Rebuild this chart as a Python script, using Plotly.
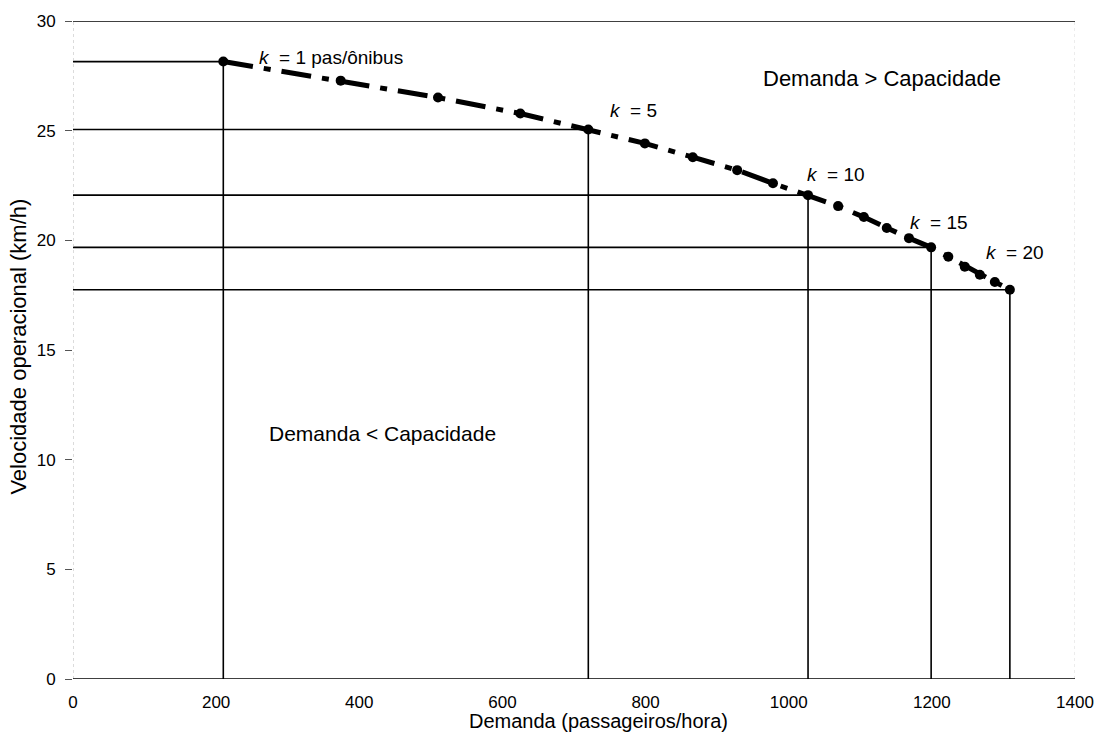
import plotly.graph_objects as go

# Operating speed vs. demand for bus occupancy k = 1..20 passengers/bus
k_values = list(range(1, 21))
demanda = [210, 374, 510, 625, 720, 799, 866, 928, 978, 1027,
           1069, 1105, 1137, 1168, 1199, 1223, 1246, 1267, 1288, 1309]
velocidade = [28.15, 27.28, 26.51, 25.78, 25.05, 24.42, 23.79, 23.2, 22.6, 22.06,
              21.56, 21.06, 20.56, 20.1, 19.68, 19.25, 18.8, 18.43, 18.1, 17.75]

# Highlighted occupancies with drop lines to both axes
k_destaque = [1, 5, 10, 15, 20]
rotulos = ["<i>k</i>  = 1 pas/ônibus", "<i>k</i>  = 5", "<i>k</i>  = 10",
           "<i>k</i>  = 15", "<i>k</i>  = 20"]
deslocamentos = [(34, 4), (20, 19), (-3, 21), (-23, 25), (-26, 37)]

x_ticks = [0, 200, 400, 600, 800, 1000, 1200, 1400]
y_ticks = [0, 5, 10, 15, 20, 25, 30]

FONT = "Liberation Sans, Arial, sans-serif"

fig = go.Figure()

for kk in k_destaque:
    i = k_values.index(kk)
    fig.add_trace(go.Scatter(
        x=[0, demanda[i], demanda[i]], y=[velocidade[i], velocidade[i], 0],
        mode="lines", line=dict(color="black", width=1.6),
        hoverinfo="skip", showlegend=False))

fig.add_trace(go.Scatter(
    x=demanda, y=velocidade, mode="lines+markers",
    line=dict(color="black", width=5, dash="30px,11px,7px,11px"),
    marker=dict(color="black", size=10),
    showlegend=False))

annotations = []
for kk, txt, (dx, dy) in zip(k_destaque, rotulos, deslocamentos):
    i = k_values.index(kk)
    annotations.append(dict(
        x=demanda[i], y=velocidade[i], xref="x", yref="y", text=txt,
        showarrow=False, xanchor="left", yanchor="middle",
        xshift=dx, yshift=dy, font=dict(family=FONT, size=19, color="black")))

annotations += [
    dict(x=1130, y=27.4, xref="x", yref="y", text="Demanda > Capacidade",
         showarrow=False, xanchor="center", yanchor="middle",
         font=dict(family=FONT, size=22, color="black")),
    dict(x=432, y=11.2, xref="x", yref="y", text="Demanda < Capacidade",
         showarrow=False, xanchor="center", yanchor="middle",
         font=dict(family=FONT, size=21, color="black")),
    dict(x=0.524, y=-0.0835, xref="paper", yref="paper", text="Demanda (passageiros/hora)",
         showarrow=False, xanchor="center", yanchor="bottom",
         font=dict(family=FONT, size=20, color="black")),
    dict(x=-0.054, y=0.505, xref="paper", yref="paper", text="Velocidade operacional (km/h)",
         showarrow=False, xanchor="center", yanchor="middle", textangle=-90,
         font=dict(family=FONT, size=22, color="black")),
]

shapes = [
    dict(type="line", xref="x", yref="y", x0=0, x1=0, y0=0, y1=30,
         line=dict(color="#b8b8b8", width=1, dash="dot")),
    dict(type="line", xref="x", yref="y", x0=1400, x1=1400, y0=0, y1=30,
         line=dict(color="#d8d8d8", width=1, dash="dot")),
    dict(type="line", xref="x", yref="y", x0=0, x1=1400, y0=30, y1=30,
         line=dict(color="black", width=1.6)),
    dict(type="line", xref="x", yref="y", x0=0, x1=1400, y0=0, y1=0,
         line=dict(color="black", width=1.6)),
]

fig.update_layout(
    width=1109, height=735,
    margin=dict(l=73, r=34, t=18, b=56),
    paper_bgcolor="white", plot_bgcolor="white",
    font=dict(family=FONT, size=17, color="black"),
    annotations=annotations, shapes=shapes,
    xaxis=dict(range=[0, 1400], tickvals=x_ticks, showgrid=False, zeroline=False,
               showline=False, ticks="", ticklabelstandoff=11,
               tickfont=dict(family=FONT, size=17, color="black")),
    yaxis=dict(range=[0, 30], tickvals=y_ticks, showgrid=False, zeroline=False,
               showline=False, ticks="outside", ticklen=7, tickwidth=1,
               tickcolor="#555555", ticklabelstandoff=6,
               tickfont=dict(family=FONT, size=17, color="black")),
)

fig.write_html("out.html")
